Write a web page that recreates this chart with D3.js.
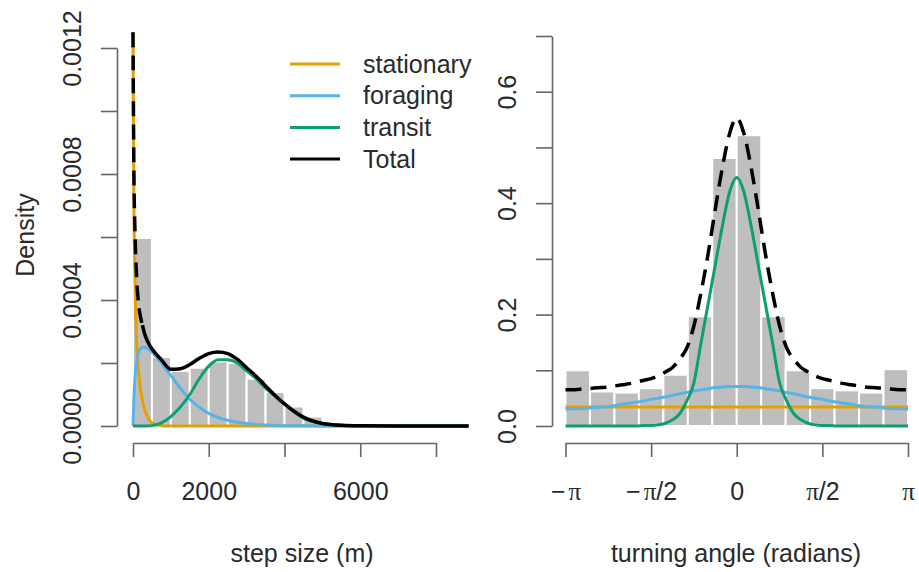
<!DOCTYPE html>
<html>
<head>
<meta charset="utf-8">
<script src="https://cdn.jsdelivr.net/npm/d3@7"></script>
<style>
  body { margin: 0; background: #fff; }
  text { font-family: "Liberation Sans", Arial, sans-serif; fill: #2a2a2a; }
  .axis path, .axis line { stroke: #666; stroke-width: 1.6; }
</style>
</head>
<body>
<div id="graph"></div>
<script>
// ---- step size panel (values in 1e-4 density units) ----
var stepX = [0, 25, 50, 100, 150, 200, 250, 300, 400, 500, 750, 1000, 1250, 1500, 1750, 2000,
             2250, 2500, 2750, 3000, 3250, 3500, 3750, 4000, 4500, 5000, 5500, 6000, 7000, 8000, 8860];
var stepStationary = [12.5, 7.0, 4.8, 2.6, 1.7, 1.15, 0.8, 0.55, 0.25, 0.1, 0.01, 0, 0, 0, 0, 0,
                      0, 0, 0, 0, 0, 0, 0, 0, 0, 0, 0, 0, 0, 0, 0];
var stepForaging = [0, 0.9, 1.5, 2.1, 2.35, 2.45, 2.5, 2.5, 2.45, 2.35, 2.0, 1.6, 1.2, 0.85, 0.6, 0.4,
                    0.27, 0.18, 0.12, 0.08, 0.05, 0.03, 0.02, 0.01, 0.005, 0.002, 0, 0, 0, 0, 0];
var stepTransit = [0, 0, 0, 0, 0, 0, 0, 0, 0.005, 0.01, 0.1, 0.3, 0.6, 1.0, 1.5, 1.9,
                   2.1, 2.1, 2.0, 1.75, 1.5, 1.2, 0.95, 0.7, 0.25, 0.08, 0.02, 0.005, 0, 0, 0];
var stepTotal = [12.5, 7.9, 6.3, 4.6, 3.85, 3.45, 3.2, 2.95, 2.65, 2.45, 2.1, 1.8, 1.82, 1.95, 2.15, 2.3,
                 2.35, 2.3, 2.12, 1.85, 1.58, 1.27, 0.97, 0.7, 0.28, 0.08, 0.02, 0.005, 0, 0, 0];
// histogram, bins of 500 m starting at 0
var stepBinWidth = 500;
var stepHist = [5.97, 2.19, 1.75, 1.85, 2.05, 2.0, 1.5, 1.08, 0.62, 0.3, 0.12, 0.05, 0.02, 0.01, 0.005, 0.003, 0.002, 0.001];
var stepTicksX = [0, 2000, 4000, 6000, 8000];
var stepLabelsX = ["0", "2000", "", "6000", ""];
var stepTicksY = [0, 0.0002, 0.0004, 0.0006, 0.0008, 0.0010, 0.0012];
var stepLabelsY = ["0.0000", "", "0.0004", "", "0.0008", "", "0.0012"];

// ---- turning angle panel (grid of pi/24 from -pi to pi) ----
var angleX = d3.range(-24, 25).map(function(k) { return k * Math.PI / 24; });
var angleStationary = [0.034, 0.034, 0.034, 0.034, 0.034, 0.034, 0.034, 0.034, 0.034, 0.034, 0.034, 0.034, 0.034,
                       0.034, 0.034, 0.034, 0.034, 0.034, 0.034, 0.034, 0.034, 0.034, 0.034, 0.034, 0.034,
                       0.034, 0.034, 0.034, 0.034, 0.034, 0.034, 0.034, 0.034, 0.034, 0.034, 0.034,
                       0.034, 0.034, 0.034, 0.034, 0.034, 0.034, 0.034, 0.034, 0.034, 0.034, 0.034, 0.034, 0.034];
var angleForaging = [0.030, 0.031, 0.031, 0.032, 0.033, 0.034, 0.035, 0.037, 0.039, 0.041, 0.043, 0.045,
                     0.048, 0.050, 0.052, 0.055, 0.058, 0.060, 0.063, 0.065, 0.067, 0.069, 0.070, 0.071,
                     0.071,
                     0.071, 0.070, 0.069, 0.067, 0.065, 0.063, 0.060, 0.058, 0.055, 0.052, 0.050, 0.048,
                     0.045, 0.043, 0.041, 0.039, 0.037, 0.035, 0.034, 0.033, 0.032, 0.031, 0.031, 0.030];
var angleTransit = [0, 0, 0, 0, 0, 0, 0, 0, 0, 0, 0, 0.001, 0.001, 0.002, 0.005, 0.011, 0.022, 0.045,
                    0.078, 0.15, 0.22, 0.29, 0.36, 0.42,
                    0.446,
                    0.42, 0.36, 0.29, 0.22, 0.15, 0.078, 0.045, 0.022, 0.011, 0.005, 0.002, 0.001,
                    0.001, 0, 0, 0, 0, 0, 0, 0, 0, 0, 0, 0];
var angleTotal = [0.065, 0.065, 0.066, 0.067, 0.068, 0.069, 0.070, 0.072, 0.074, 0.076, 0.079, 0.082,
                  0.085, 0.090, 0.097, 0.105, 0.12, 0.14, 0.18, 0.24, 0.31, 0.39, 0.465, 0.525,
                  0.553,
                  0.525, 0.465, 0.39, 0.31, 0.24, 0.18, 0.14, 0.12, 0.105, 0.097, 0.090, 0.085,
                  0.082, 0.079, 0.076, 0.074, 0.072, 0.070, 0.069, 0.068, 0.067, 0.066, 0.065, 0.065];
// histogram, 14 bins of pi/7 starting at -pi
var angleHist = [0.100, 0.062, 0.060, 0.068, 0.092, 0.197, 0.481, 0.522, 0.197, 0.100, 0.068, 0.064, 0.060, 0.102];
var angleTicksX = [-Math.PI, -Math.PI / 2, 0, Math.PI / 2, Math.PI];
var angleLabelsX = ["-p", "-p/2", "0", "p/2", "p"];
var angleTicksY = [0, 0.1, 0.2, 0.3, 0.4, 0.5, 0.6, 0.7];
var angleLabelsY = ["0.0", "", "0.2", "", "0.4", "", "0.6", ""];

var legendNames = ["stationary", "foraging", "transit", "Total"];
var colors = {stationary: "#E69F00", foraging: "#56B4E9", transit: "#0E9E74", Total: "#000"};

var svg = d3.select("#graph").append("svg")
    .attr("width", 919)
    .attr("height", 572);

svg.append("rect").attr("width", 919).attr("height", 572).attr("fill", "#fff");

// scales
var x1 = d3.scaleLinear().domain([0, 8000]).range([133, 436]);
var y1 = d3.scaleLinear().domain([0, 0.0012]).range([426, 48]);
var x2 = d3.scaleLinear().domain([-Math.PI, Math.PI]).range([565.5, 908]);
var y2 = d3.scaleLinear().domain([0, 0.7]).range([426, 36]);

function drawLine(xs, ys, sx, sy, color, width, dash, scaleVal) {
  var pts = xs.map(function(d, i) { return [d, ys[i] * scaleVal]; });
  var line = d3.line()
      .x(function(d) { return sx(d[0]); })
      .y(function(d) { return sy(d[1]); })
      .curve(d3.curveMonotoneX);
  svg.append("path")
      .datum(pts)
      .attr("d", line)
      .attr("fill", "none")
      .attr("stroke", color)
      .attr("stroke-width", width)
      .attr("stroke-dasharray", dash)
      .attr("stroke-linejoin", "round");
}

// ---- left panel ----
svg.append("g").selectAll("rect")
    .data(stepHist)
  .enter().append("rect")
    .attr("x", function(d, i) { return x1(i * stepBinWidth); })
    .attr("width", function(d, i) { return x1((i + 1) * stepBinWidth) - x1(i * stepBinWidth); })
    .attr("y", function(d) { return y1(d * 1e-4); })
    .attr("height", function(d) { return y1(0) - y1(d * 1e-4); })
    .attr("fill", "#bebebe")
    .attr("stroke", "#fff")
    .attr("stroke-width", 2);

drawLine(stepX, stepStationary, x1, y1, colors.stationary, 3, null, 1e-4);
drawLine(stepX, stepForaging, x1, y1, colors.foraging, 3, null, 1e-4);
drawLine(stepX, stepTransit, x1, y1, colors.transit, 3, null, 1e-4);
// total: dashed along the spike, solid after
var cut = stepX.indexOf(250);
drawLine(stepX.slice(0, cut + 1), stepTotal.slice(0, cut + 1), x1, y1, "#000", 3.5, "15,8", 1e-4);
drawLine(stepX.slice(cut), stepTotal.slice(cut), x1, y1, "#000", 3.5, null, 1e-4);

// ---- right panel ----
var binW = 2 * Math.PI / angleHist.length;
svg.append("g").selectAll("rect")
    .data(angleHist)
  .enter().append("rect")
    .attr("x", function(d, i) { return x2(-Math.PI + i * binW); })
    .attr("width", function(d, i) { return x2(-Math.PI + (i + 1) * binW) - x2(-Math.PI + i * binW); })
    .attr("y", function(d) { return y2(d); })
    .attr("height", function(d) { return y2(0) - y2(d); })
    .attr("fill", "#bebebe")
    .attr("stroke", "#fff")
    .attr("stroke-width", 2);

drawLine(angleX, angleStationary, x2, y2, colors.stationary, 3, null, 1);
drawLine(angleX, angleForaging, x2, y2, colors.foraging, 3, null, 1);
drawLine(angleX, angleTransit, x2, y2, colors.transit, 3, null, 1);
drawLine(angleX, angleTotal, x2, y2, "#000", 3.5, "16,9", 1);

// ---- axes ----
function yAxis(sy, ticks, labels, xpos) {
  var g = svg.append("g")
      .attr("class", "axis")
      .attr("transform", "translate(" + xpos + ",0)")
      .call(d3.axisLeft(sy).tickValues(ticks).tickSize(16).tickSizeOuter(0)
        .tickFormat(function(d, i) { return labels[i]; }));
  g.selectAll("text")
      .attr("x", null)
      .attr("dy", "0.35em")
      .attr("text-anchor", "middle")
      .attr("transform", "translate(-45,0) rotate(-90)")
      .style("font-size", "25px")
      .attr("fill", "#2a2a2a");
  return g;
}

function xAxis(sx, ticks, labels) {
  var g = svg.append("g")
      .attr("class", "axis")
      .attr("transform", "translate(0,443)")
      .call(d3.axisBottom(sx).tickValues(ticks).tickSize(14).tickSizeOuter(0)
        .tickFormat(function(d, i) { return labels[i]; }));
  g.selectAll("text")
      .attr("y", 57)
      .attr("dy", null)
      .style("font-size", "25px")
      .attr("fill", "#2a2a2a");
  return g;
}

yAxis(y1, stepTicksY, stepLabelsY, 117);
xAxis(x1, stepTicksX, stepLabelsX);
yAxis(y2, angleTicksY, angleLabelsY, 552);
var ax = xAxis(x2, angleTicksX, angleLabelsX);

// pi labels: minus and digits in sans, pi in serif
ax.selectAll("text").each(function(d, i) {
  var lab = angleLabelsX[i];
  var t = d3.select(this).text(null);
  lab.split("").forEach(function(ch) {
    if (ch === "p") {
      t.append("tspan").attr("dx", i < 2 ? 3 : 0)
        .style("font-family", "'Liberation Serif', 'DejaVu Serif', serif").text("\u03C0");
    } else if (ch === "-") {
      t.append("tspan").text("\u2212");
    } else {
      t.append("tspan").text(ch);
    }
  });
});

// axis titles
svg.append("text")
    .attr("transform", "translate(34,235) rotate(-90)")
    .style("text-anchor", "middle")
    .style("font-size", "25px")
    .text("Density");

svg.append("text")
    .attr("x", 302).attr("y", 562)
    .style("text-anchor", "middle")
    .style("font-size", "25px")
    .text("step size (m)");

svg.append("text")
    .attr("x", 736).attr("y", 562)
    .style("text-anchor", "middle")
    .style("font-size", "25px")
    .text("turning angle (radians)");

// legend
var leg = svg.append("g").selectAll("g")
    .data(legendNames)
  .enter().append("g")
    .attr("transform", function(d, i) { return "translate(290," + (64 + i * 31.7) + ")"; });

leg.append("line")
    .attr("x1", 0).attr("x2", 50)
    .attr("stroke", function(d) { return colors[d]; })
    .attr("stroke-width", 3);

leg.append("text")
    .attr("x", 73)
    .attr("dy", "0.35em")
    .style("font-size", "25px")
    .text(function(d) { return d; });
</script>
</body>
</html>
